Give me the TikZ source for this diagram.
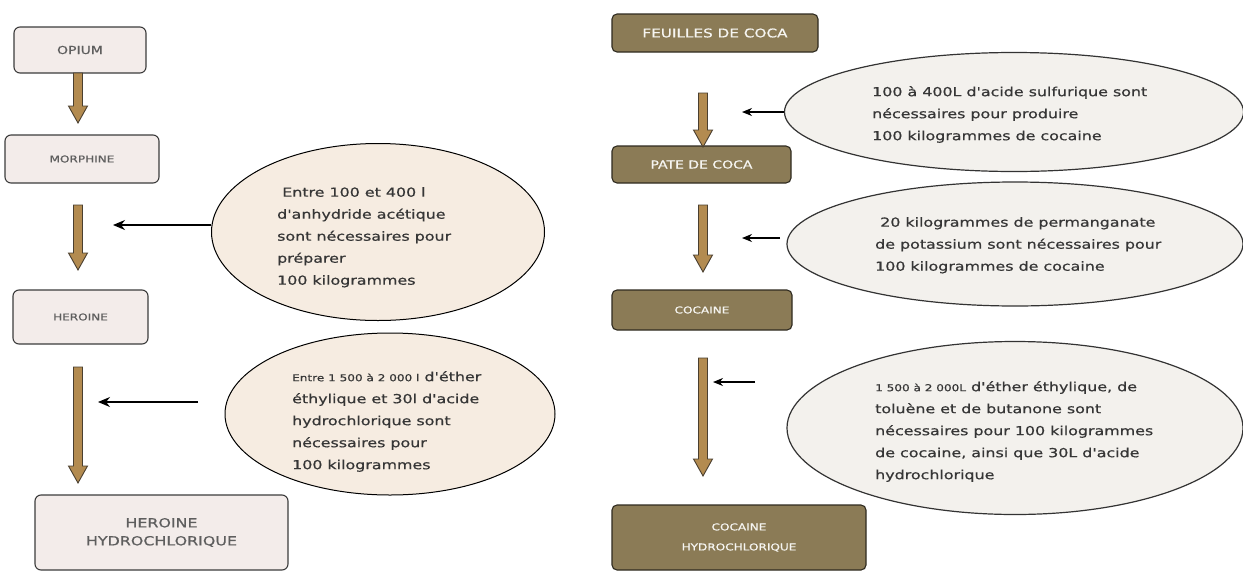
\documentclass[tikz,border=0pt]{standalone}
\usepackage{fontspec}
\usetikzlibrary{arrows.meta,shapes.geometric,calc}
\newfontfamily\wf{DejaVu Sans}[FakeStretch=1.27,FakeBold=0.6]
\definecolor{lbfill}{HTML}{F3ECEA}
\definecolor{lbdraw}{HTML}{3C3C3C}
\definecolor{lefill}{HTML}{F6ECE1}
\definecolor{refill}{HTML}{F3F1ED}
\definecolor{rbfill}{HTML}{8B7B56}
\definecolor{rbdraw}{HTML}{2F2B20}
\definecolor{arfill}{HTML}{B38B50}
\definecolor{ardraw}{HTML}{4A3F30}
\definecolor{txt}{HTML}{363636}
\newcommand\brownarrow[2]{%
  \draw[fatarrow] let \p1=(#1), \p2=(#2) in
   (\x1-4.5pt,\y1) -- (\x1-4.5pt,\y2+17pt) -- (\x1-9.5pt,\y2+17pt) -- (\x1,\y2)
   -- (\x1+9.5pt,\y2+17pt) -- (\x1+4.5pt,\y2+17pt) -- (\x1+4.5pt,\y1) -- cycle;}
\begin{document}
\begin{tikzpicture}[x=1pt,y=-1pt,
  lbox/.style={draw=lbdraw, line width=1.1pt, fill=lbfill, rounded corners=6pt,
     inner sep=0pt, text=txt!80, align=center},
  rbox/.style={draw=rbdraw, line width=1.1pt, fill=rbfill, rounded corners=5pt,
     inner sep=0pt, text=white!92!rbfill, align=center},
  lell/.style={ellipse, draw=black, line width=1pt, fill=lefill, inner sep=0pt},
  rell/.style={ellipse, draw=black!80, line width=1.2pt, fill=refill, inner sep=0pt},
  etext/.style={anchor=north west, inner sep=0pt, align=left, text=txt,
     font=\wf\fontsize{12.5}{22}\selectfont},
  fatarrow/.style={draw=ardraw, line width=0.9pt, fill=arfill, line join=miter},
  thinarrow/.style={draw=black, line width=1.3pt, -{Stealth[length=12pt,width=10pt]}},
  thinarrowr/.style={draw=black, line width=1.3pt, -{Stealth[length=10pt,width=8pt]}}
]
\useasboundingbox (0,0) rectangle (1243,571);
\fill[white] (0,0) rectangle (1243,571);

% ---------- left column ----------
\node[lbox, minimum width=132pt, minimum height=46pt, font=\wf\fontsize{11}{13}\selectfont] (opium) at (80,50) {OPIUM};
\node[lbox, minimum width=154pt, minimum height=48pt, font=\wf\fontsize{9.5}{12}\selectfont] (morph) at (82,159) {MORPHINE};
\node[lbox, minimum width=135pt, minimum height=54pt, font=\wf\fontsize{9.5}{12}\selectfont] (hero) at (80.5,317) {HEROINE};
\node[lbox, minimum width=253pt, minimum height=75pt, font=\wf\fontsize{12.5}{18}\selectfont] (herohc) at (161.5,532.5) {HEROINE\\HYDROCHLORIQUE};

\coordinate (a1s) at (78,73);  \coordinate (a1e) at (78,123);
\coordinate (a2s) at (78,205); \coordinate (a2e) at (78,270);
\coordinate (a3s) at (78,367); \coordinate (a3e) at (78,483);
\brownarrow{a1s}{a1e}
\brownarrow{a2s}{a2e}
\brownarrow{a3s}{a3e}

\node[lell, minimum width=333pt, minimum height=177pt] (e1) at (378,232) {};
\node[lell, minimum width=330pt, minimum height=162pt] (e2) at (390,414) {};

\coordinate (t1e) at (113,225);
\draw[thinarrow] ([yshift=7pt]e1.west) -- ([yshift=7pt]e1.west -| t1e);
\coordinate (t2s) at (198,402); \coordinate (t2e) at (98,402);
\draw[thinarrow] (t2s) -- (t2e);

\node[etext] (e1t) at (277,187) {\ Entre 100 et 400 l\\d'anhydride acétique\\sont nécessaires pour\\préparer\\100 kilogrammes};
\node[etext] (e2t) at (292,371) {{\fontsize{9.5}{22}\selectfont Entre 1 500 à 2 000 l} d'éther\\éthylique et 30l d'acide\\hydrochlorique sont\\nécessaires pour\\100 kilogrammes};

% ---------- right column ----------
\node[rbox, minimum width=206pt, minimum height=38pt, font=\wf\fontsize{12}{14}\selectfont] (feuil) at (715,33) {FEUILLES DE COCA};
\node[rbox, minimum width=179pt, minimum height=37pt, font=\wf\fontsize{11}{13}\selectfont] (pate) at (701.5,164.5) {PATE DE COCA};
\node[rbox, minimum width=180pt, minimum height=40pt, font=\wf\fontsize{9.5}{12}\selectfont] (coca) at (702,310) {COCAINE};
\node[rbox, minimum width=254pt, minimum height=65pt, font=\wf\fontsize{9.5}{20}\selectfont] (cocahc) at (739,537.5) {COCAINE\\HYDROCHLORIQUE};

\coordinate (b1s) at (703,93);  \coordinate (b1e) at (703,147);
\coordinate (b2s) at (703,205); \coordinate (b2e) at (703,272);
\coordinate (b3s) at (703,358); \coordinate (b3e) at (703,476);
\brownarrow{b1s}{b1e}
\brownarrow{b2s}{b2e}
\brownarrow{b3s}{b3e}

\node[rell, minimum width=459pt, minimum height=119pt] (r1) at (1014,112) {};
\node[rell, minimum width=456pt, minimum height=124pt] (r2) at (1015,244) {};
\node[rell, minimum width=456pt, minimum height=173pt] (r3) at (1015,428) {};

\coordinate (u1e) at (742,112);
\draw[thinarrowr] (r1.west) -- (u1e);
\coordinate (u2s) at (780,238); \coordinate (u2e) at (742,238);
\draw[thinarrowr] (u2s) -- (u2e);
\coordinate (u3s) at (755,382); \coordinate (u3e) at (713,382);
\draw[thinarrowr] (u3s) -- (u3e);

\node[etext] (r1t) at (872,86) {100 à 400L d'acide sulfurique sont\\nécessaires pour produire\\100 kilogrammes de cocaine};
\node[etext] (r2t) at (875,217) {\ 20 kilogrammes de permanganate\\de potassium sont nécessaires pour\\100 kilogrammes de cocaine};
\node[etext] (r3t) at (875,381) {{\fontsize{9.5}{22}\selectfont 1 500 à 2 000L} d'éther éthylique, de\\toluène et de butanone sont\\nécessaires pour 100 kilogrammes\\de cocaine, ainsi que 30L d'acide\\hydrochlorique};
\end{tikzpicture}
\end{document}
